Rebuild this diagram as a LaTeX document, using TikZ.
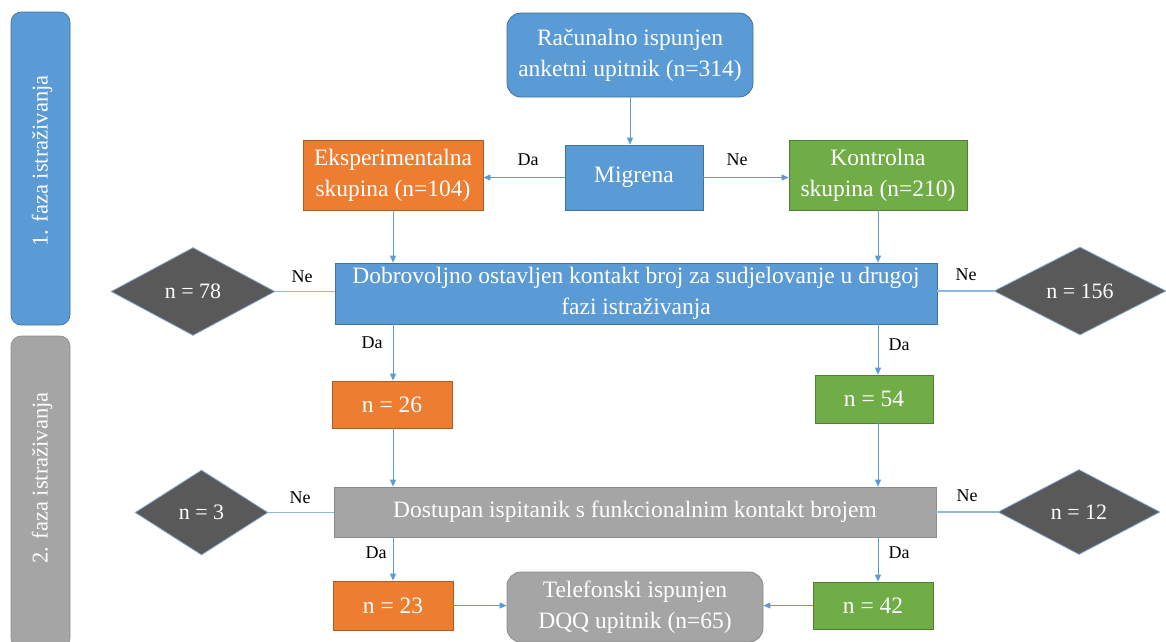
\documentclass[tikz,border=0pt]{standalone}
\usepackage{fontspec}
\setmainfont{Liberation Serif}
\usetikzlibrary{shapes.geometric,arrows.meta}
\definecolor{cblue}{HTML}{5B9BD5}
\definecolor{cblueb}{HTML}{41719C}
\definecolor{corange}{HTML}{ED7D31}
\definecolor{corangeb}{HTML}{AE5A21}
\definecolor{cgreen}{HTML}{70AD47}
\definecolor{cgreenb}{HTML}{507E32}
\definecolor{cgray}{HTML}{A5A5A5}
\definecolor{cgrayb}{HTML}{8A8A8A}
\definecolor{cdark}{HTML}{595959}
\definecolor{cdarkb}{HTML}{8FAACC}
\tikzset{
  box/.style={rectangle, inner sep=0pt, align=center, text=white, line width=0.8pt,
    font=\fontsize{23.5}{31}\selectfont},
  bluebox/.style={box, fill=cblue, draw=cblueb},
  orangebox/.style={box, fill=corange, draw=corangeb},
  greenbox/.style={box, fill=cgreen, draw=cgreenb},
  graybox/.style={box, fill=cgray, draw=cgrayb},
  dia/.style={diamond, inner sep=0pt, fill=cdark, draw=cdarkb, line width=0.8pt, text=white,
    font=\fontsize{22}{26}\selectfont},
  side/.style={rectangle, rounded corners=10pt, inner sep=0pt, line width=0.6pt},
  sidetext/.style={rotate=90, text=white, font=\fontsize{22.5}{26}\selectfont},
  lbl/.style={font=\fontsize{18}{20}\selectfont, text=black, inner sep=0pt},
  conn/.style={draw=cblue, line width=1pt, -{Triangle[length=7pt,width=6pt]}},
  link/.style={draw=cblue!70, line width=1.2pt}
}
\begin{document}
\begin{tikzpicture}[x=1pt,y=-1pt]
\useasboundingbox (0,0) rectangle (1166,641);
% side bars
\node[side, fill=cblue, draw=cblueb, minimum width=59pt, minimum height=313pt] (s1) at (40.5,168.5) {};
\node[sidetext] (s1t) at (42,161) {1. faza istraživanja};
\node[side, fill=cgray, draw=cgrayb, minimum width=59pt, minimum height=312pt] (s2) at (40.5,492) {};
\node[sidetext] (s2t) at (42,478) {2. faza istraživanja};
% nodes
\node[bluebox, rounded corners=14pt, minimum width=246pt, minimum height=84pt] (top) at (630,55) {Računalno ispunjen\\anketni upitnik (n=314)};
\node[bluebox, minimum width=138pt, minimum height=65pt] (mig) at (634,177.5) {Migrena};
\node[orangebox, minimum width=180pt, minimum height=70pt] (eks) at (393,175) {Eksperimentalna\\skupina (n=104)};
\node[greenbox, minimum width=178pt, minimum height=70pt] (kon) at (878,175) {Kontrolna\\skupina (n=210)};
\node[bluebox, minimum width=602pt, minimum height=61pt] (dob) at (636,293.5) {Dobrovoljno ostavljen kontakt broj za sudjelovanje u drugoj\\fazi istraživanja};
\node[dia, minimum width=164pt, minimum height=88pt] (d78) at (193,291.5) {n = 78};
\node[dia, minimum width=172pt, minimum height=88pt] (d156) at (1080,291) {n = 156};
\node[orangebox, minimum width=120pt, minimum height=47pt] (n26) at (392,404.5) {n = 26};
\node[greenbox, minimum width=118pt, minimum height=48pt] (n54) at (874,399) {n = 54};
\node[graybox, minimum width=602pt, minimum height=50pt] (dos) at (635,512) {Dostupan ispitanik s funkcionalnim kontakt brojem};
\node[dia, minimum width=133pt, minimum height=85pt] (d3) at (201.5,512.5) {n = 3};
\node[dia, minimum width=162pt, minimum height=85pt] (d12) at (1079,512) {n = 12};
\node[orangebox, minimum width=120pt, minimum height=49pt] (n23) at (393,605.5) {n = 23};
\node[greenbox, minimum width=120pt, minimum height=47pt] (n42) at (873,605.5) {n = 42};
\node[graybox, rounded corners=14pt, minimum width=256pt, minimum height=70pt] (tel) at (635,607) {Telefonski ispunjen\\DQQ upitnik (n=65)};
% connectors
\draw[conn] (top.south) -- (top.south |- mig.north);
\draw[conn] (mig.west) -- (mig.west -| eks.east);
\draw[conn] (mig.east) -- (mig.east -| kon.west);
\draw[conn] (eks.south) -- (eks.south |- dob.north);
\draw[conn] (kon.south) -- (kon.south |- dob.north);
\draw[link] (dob.west |- d78.east) -- (d78.east);
\draw[link] (dob.east |- d156.west) -- (d156.west);
\draw[conn] (dob.south -| eks.south) -- (n26.north -| eks.south);
\draw[conn] (dob.south -| kon.south) -- (n54.north -| kon.south);
\draw[conn] (n26.south -| eks.south) -- (dos.north -| eks.south);
\draw[conn] (n54.south -| kon.south) -- (dos.north -| kon.south);
\draw[link] (dos.west |- d3.east) -- (d3.east);
\draw[link] (dos.east |- d12.west) -- (d12.west);
\draw[conn] (dos.south -| eks.south) -- (n23.north -| eks.south);
\draw[conn] (dos.south -| kon.south) -- (n42.north -| kon.south);
\draw[conn] (n23.east) -- (n23.east -| tel.west);
\draw[conn] (n42.west) -- (n42.west -| tel.east);
% labels
\node[lbl] (l1) at (528,160) {Da};
\node[lbl] (l2) at (737,160) {Ne};
\node[lbl] (l3) at (302,277) {Ne};
\node[lbl] (l4) at (966,275) {Ne};
\node[lbl] (l5) at (372,343) {Da};
\node[lbl] (l6) at (899,345) {Da};
\node[lbl] (l7) at (300,498) {Ne};
\node[lbl] (l8) at (967,496) {Ne};
\node[lbl] (l9) at (376,553) {Da};
\node[lbl] (l10) at (899,553) {Da};
\end{tikzpicture}
\end{document}
